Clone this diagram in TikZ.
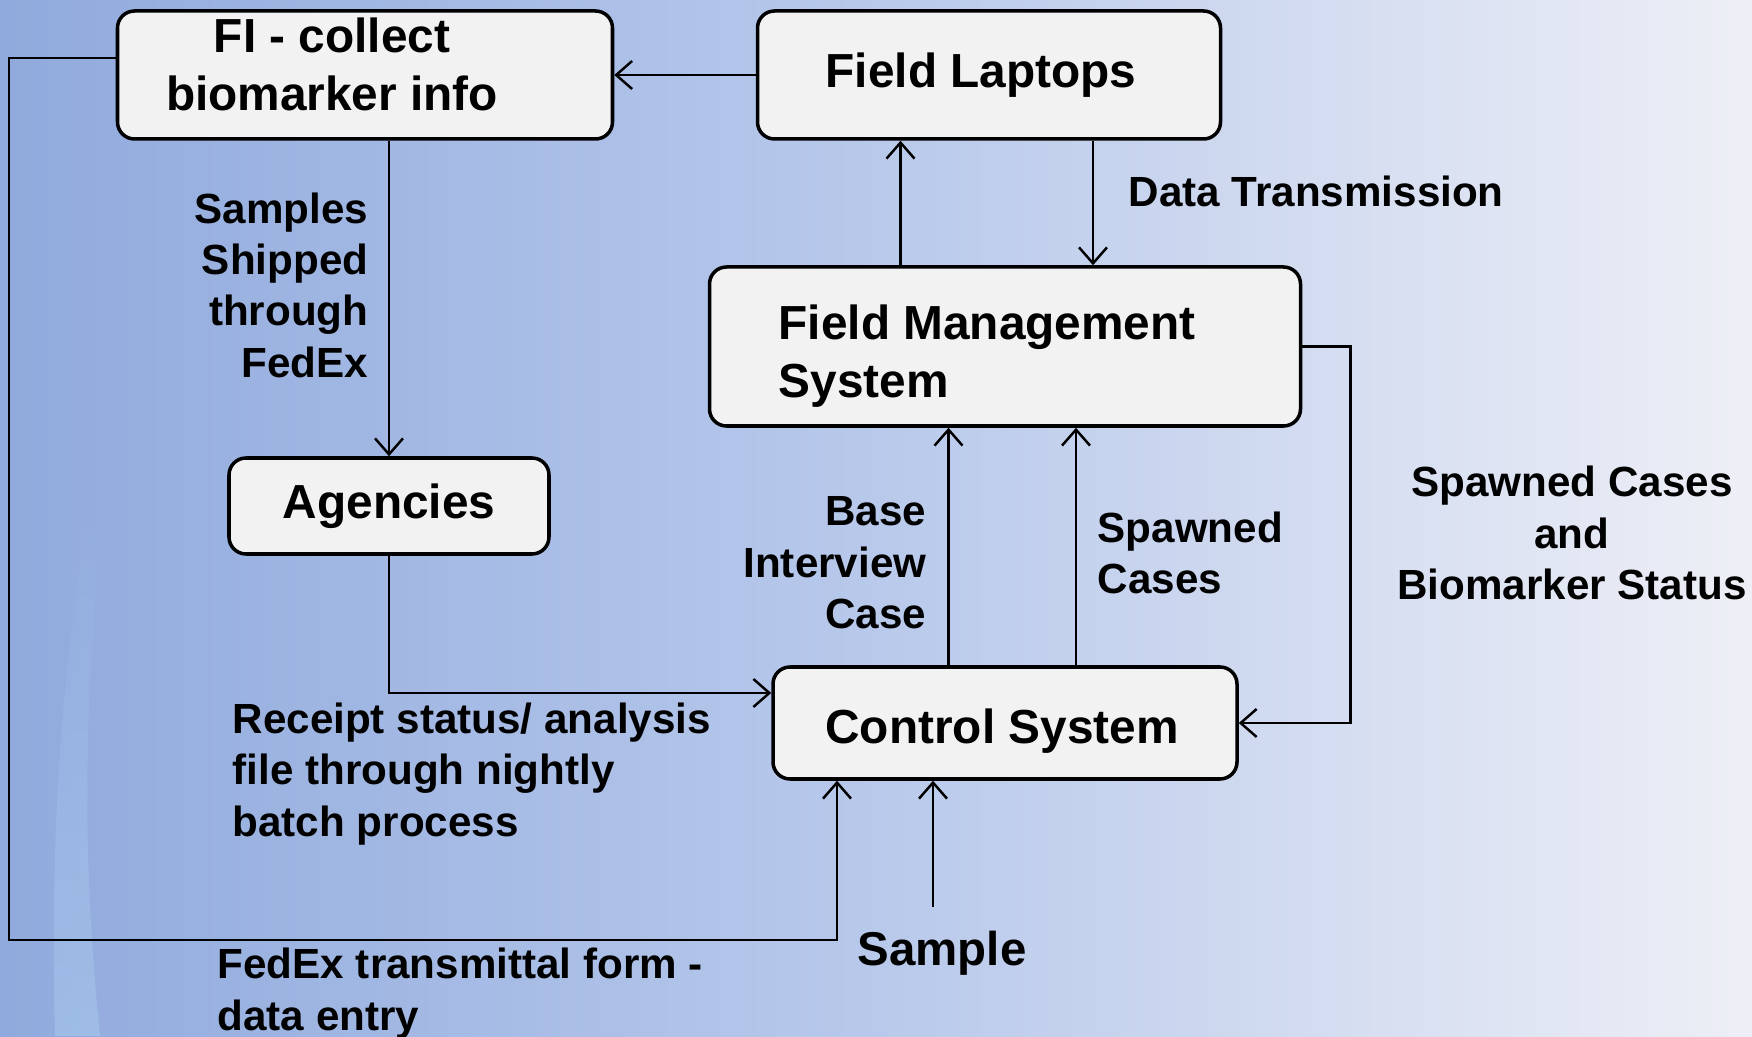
\documentclass[tikz,border=0pt]{standalone}
\usepackage{fontspec}
\setmainfont{Liberation Sans}
\usetikzlibrary{arrows.meta,positioning,fadings}
\definecolor{boxfill}{RGB}{242,242,242}
\definecolor{bgleft}{RGB}{144,170,221}
\definecolor{bgmid}{RGB}{184,201,235}
\definecolor{bgright}{RGB}{238,239,246}
\definecolor{streak}{RGB}{172,208,240}
\begin{document}
\begin{tikzpicture}[
    >={Straight Barb[length=1.6mm,width=2.8mm]},
    box/.style={draw,line width=1pt,rounded corners=1.7mm,fill=boxfill},
    boxtxt/.style={inner sep=0pt,font=\fontsize{13.6}{16.5}\selectfont\bfseries},
    lbl/.style={inner sep=0pt,font=\fontsize{12}{14.6}\selectfont\bfseries},
    flow/.style={->,line width=.7pt}]
  \useasboundingbox (0,0) rectangle (17.52,10.36);
  \shade[left color=bgleft,right color=bgright,middle color=bgmid] (0,0) rectangle (17.52,10.36);
  % soft light streak bottom left, fading out upwards
  \fill[streak,opacity=.45,path fading=north] (0.55,0) .. controls (0.5,2) and (0.6,3.5) .. (0.9,5.4)
    -- (1.05,5.4) .. controls (0.85,3.5) and (0.8,2) .. (1.0,0) -- cycle;

  % boxes
  \node[box,minimum width=4.95cm,minimum height=1.28cm] (fi) at (3.65,9.61) {};
  \node[boxtxt,align=center] (fitxt) at (3.32,9.72) {FI - collect\\biomarker info};
  \node[box,minimum width=4.63cm,minimum height=1.28cm] (fl) at (9.89,9.61) {};
  \node[boxtxt] (fltxt) at (9.81,9.61) {Field Laptops};
  \node[box,minimum width=5.91cm,minimum height=1.59cm] (fms) at (10.05,6.895) {};
  \node[boxtxt,align=left,anchor=west] (fmstxt) at (7.78,6.795) {Field Management\\System};
  \node[box,minimum width=3.2cm,minimum height=.96cm,boxtxt,inner sep=0pt] (ag) at (3.89,5.30) {Agencies};
  \node[box,minimum width=4.64cm,minimum height=1.12cm] (cs) at (10.05,3.13) {};
  \node[boxtxt] (cstxt) at (10.02,3.05) {Control System};

  % free ends
  \coordinate (lp) at (0.09,0.96);
  \coordinate (smp) at (9.33,1.29);

  % connectors
  \draw[flow] (fl.west) -- (fi.east);
  \draw[flow] (ag.north |- fi.south) -- (ag.north);
  \draw[flow] ([xshift=-10.45mm]fms.north) -- ([xshift=-10.45mm]fms.north |- fl.south);
  \draw[flow] ([xshift=8.8mm]fms.north |- fl.south) -- ([xshift=8.8mm]fms.north);
  \draw[flow] (fms.east) -- ++(.48,0) |- (cs.east);
  \draw[flow] ([xshift=-5.65mm]cs.north) -- ([xshift=-5.65mm]cs.north |- fms.south);
  \draw[flow] ([xshift=7.1mm]cs.north) -- ([xshift=7.1mm]cs.north |- fms.south);
  \draw[flow] (ag.south) |- ([yshift=3mm]cs.west);
  \draw[flow] ([yshift=1.7mm]fi.west) -| (lp) -| ([xshift=-16.8mm]cs.south);
  \draw[flow] (smp) -- (smp |- cs.south);

  % labels
  \node[lbl,align=right,anchor=east] (shiplbl) at (3.69,7.51) {Samples\\Shipped\\through\\FedEx};
  \node[lbl,anchor=west] (dtlbl) at (11.28,8.45) {Data Transmission};
  \node[lbl,align=center] (sclbl) at (15.72,5.03) {Spawned Cases\\and\\Biomarker Status};
  \node[lbl,align=right,anchor=east] (bilbl) at (9.27,4.73) {Base\\Interview\\Case};
  \node[lbl,align=left,anchor=west] (splbl) at (10.97,4.83) {Spawned\\Cases};
  \node[lbl,align=left,anchor=west] (rslbl) at (2.32,2.62) {Receipt status/ analysis\\file through nightly\\batch process};
  \node[lbl,align=left,anchor=west] (fxlbl) at (2.17,0.425) {FedEx transmittal form -\\data entry};
  \node[inner sep=0pt,font=\fontsize{13.5}{16}\selectfont\bfseries] (smplbl) at (9.42,0.83) {Sample};
\end{tikzpicture}
\end{document}
